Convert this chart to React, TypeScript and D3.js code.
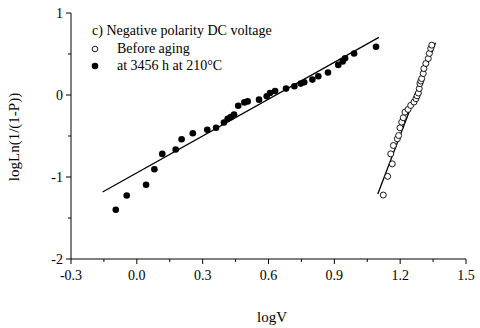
import React from 'react';
import { scaleLinear, range } from 'd3';

// aged samples (filled dots)
const agedLogV = [-0.096, -0.046, 0.042, 0.080, 0.116, 0.177, 0.204, 0.255, 0.321, 0.361, 0.397, 0.414, 0.428, 0.443, 0.462, 0.490, 0.505, 0.557, 0.592, 0.607, 0.630, 0.680, 0.718, 0.747, 0.763, 0.800, 0.827, 0.871, 0.918, 0.938, 0.949, 0.990, 1.090];
const agedLogLn = [-1.40, -1.225, -1.094, -0.906, -0.718, -0.665, -0.539, -0.466, -0.424, -0.400, -0.335, -0.290, -0.270, -0.237, -0.131, -0.090, -0.078, -0.057, -0.016, 0.024, 0.049, 0.078, 0.106, 0.139, 0.155, 0.188, 0.229, 0.274, 0.367, 0.409, 0.449, 0.507, 0.588];

// before aging (open circles)
const freshLogV = [1.123, 1.143, 1.164, 1.157, 1.169, 1.187, 1.193, 1.199, 1.207, 1.214, 1.222, 1.236, 1.248, 1.263, 1.272, 1.277, 1.283, 1.287, 1.290, 1.294, 1.298, 1.305, 1.308, 1.317, 1.328, 1.333, 1.339, 1.344];
const freshLogLn = [-1.220, -0.992, -0.840, -0.718, -0.616, -0.534, -0.494, -0.400, -0.331, -0.277, -0.209, -0.176, -0.127, -0.086, -0.045, -0.010, 0.024, 0.078, 0.139, 0.170, 0.200, 0.262, 0.323, 0.384, 0.445, 0.507, 0.568, 0.608];

// fitted lines [x start, x end, intercept, slope]
const agedFit = [-0.156, 1.103, -0.949, 1.497];
const freshFit = [1.098, 1.361, -8.911, 7.015];

const xTicks = [-0.3, 0.0, 0.3, 0.6, 0.9, 1.2, 1.5];
const yTicks = [-2, -1, 0, 1];

const App = () => {
  const width = 480;
  const height = 328;
  const margin = { top: 13, left: 71, right: 14, bottom: 69 };
  const font = '"Liberation Serif", "Times New Roman", serif';

  const x = scaleLinear().domain([-0.3, 1.5]).range([margin.left, width - margin.right]);
  const y = scaleLinear().domain([-2, 1]).range([height - margin.bottom, margin.top]);

  const xMinor = range(0, 12).map(i => -0.15 + i * 0.3);
  const yMinor = [-1.5, -0.5, 0.5];

  const fitLine = (f: number[]) => (
    <line
      x1={x(f[0])} y1={y(f[2] + f[3] * f[0])}
      x2={x(f[1])} y2={y(f[2] + f[3] * f[1])}
      stroke="black" strokeWidth={1.3}
    />
  );

  const x0 = x(-0.3);
  const yBase = y(-2);

  return (
    <svg width={width} height={height} style={{ position: 'absolute', left: 0, top: 0, background: 'white' }}>
      {/* axes */}
      <path d={`M ${x0} ${y(1)} V ${yBase} H ${x(1.5)}`} stroke="black" fill="none" strokeWidth={1} />
      {xTicks.map(t => (
        <g key={'xt' + t}>
          <line x1={x(t)} x2={x(t)} y1={yBase} y2={yBase + 5} stroke="black" />
          <text x={x(t)} y={yBase + 21} textAnchor="middle" fontFamily={font} fontSize={14}>{t.toFixed(1)}</text>
        </g>
      ))}
      {xMinor.filter(t => t < 1.5).map(t => (
        <line key={'xm' + t} x1={x(t)} x2={x(t)} y1={yBase} y2={yBase + 3} stroke="black" />
      ))}
      {yTicks.map(t => (
        <g key={'yt' + t}>
          <line x1={x0} x2={x0 - 5} y1={y(t)} y2={y(t)} stroke="black" />
          <text x={x0 - 8} y={y(t) + 5} textAnchor="end" fontFamily={font} fontSize={14}>{t}</text>
        </g>
      ))}
      {yMinor.map(t => (
        <line key={'ym' + t} x1={x0} x2={x0 - 3} y1={y(t)} y2={y(t)} stroke="black" />
      ))}
      <text x={272} y={322} textAnchor="middle" fontFamily={font} fontSize={15}>logV</text>
      <text transform={`translate(19, 137) rotate(-90)`} textAnchor="middle" fontFamily={font} fontSize={15}>logLn(1/(1-P))</text>

      {/* fits */}
      {fitLine(agedFit)}
      {fitLine(freshFit)}

      {/* points */}
      {agedLogV.map((v, i) => (
        <circle key={'a' + i} cx={x(v)} cy={y(agedLogLn[i])} r={3.3} fill="black" />
      ))}
      {freshLogV.map((v, i) => (
        <circle key={'f' + i} cx={x(v)} cy={y(freshLogLn[i])} r={3} fill="white" stroke="black" strokeWidth={0.9} />
      ))}

      {/* legend */}
      <text x={92} y={35} fontFamily={font} fontSize={14}>c) Negative polarity DC voltage</text>
      <circle cx={95} cy={49} r={2.8} fill="white" stroke="black" strokeWidth={0.9} />
      <text x={117} y={53} fontFamily={font} fontSize={14}>Before aging</text>
      <circle cx={95} cy={66} r={3.3} fill="black" />
      <text x={117} y={70} fontFamily={font} fontSize={14}>at 3456 h at 210°C</text>
    </svg>
  );
};

export default App;
